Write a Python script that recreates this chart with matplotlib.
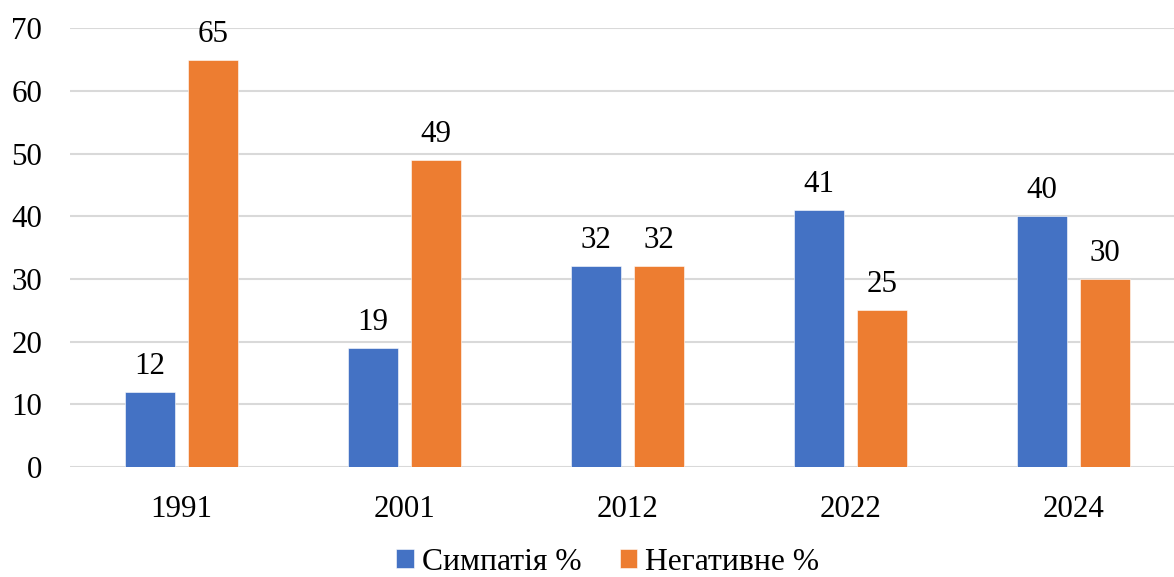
import numpy as np
import matplotlib.pyplot as plt

plt.rcParams.update({
    "font.family": ["Liberation Serif", "DejaVu Serif"],
    "font.size": 22.3,
})

# Data
years = ["1991", "2001", "2012", "2022", "2024"]
sympathy = [12, 19, 32, 41, 40]
negative = [65, 49, 32, 25, 30]
series_names = ["Симпатія %", "Негативне %"]

blue = "#4472C4"
orange = "#ED7D31"

fig = plt.figure(figsize=(11.74, 5.77), dpi=100)
# axes extends slightly past right edge like the original
ax = fig.add_axes([70 / 1174, 110 / 577, 1115 / 1174, 438.7 / 577])

x = np.arange(len(years))
w = 0.224
off = 0.1415

b1 = ax.bar(x - off, sympathy, w, color=blue, edgecolor="white", linewidth=0.4,
            label=series_names[0], zorder=3)
b2 = ax.bar(x + off, negative, w, color=orange, edgecolor="white", linewidth=0.4,
            label=series_names[1], zorder=3)

# value labels
for bars, vals in ((b1, sympathy), (b2, negative)):
    for rect, v in zip(bars, vals):
        ax.annotate(str(v), (rect.get_x() + rect.get_width() / 2, v),
                    xytext=(0, 13), textcoords="offset points",
                    ha="center", va="baseline")

ax.set_xlim(-0.5, 4.5)
ax.set_ylim(0, 70)
ax.set_yticks(range(0, 71, 10))
ax.set_xticks(x)
ax.set_xticklabels(years)

ax.grid(axis="y", color="#D9D9D9", linewidth=1.5, zorder=0)
ax.set_axisbelow(True)
for s in ax.spines.values():
    s.set_visible(False)
ax.tick_params(axis="x", length=0, pad=20)
ax.tick_params(axis="y", length=0, pad=20)

fig.legend(loc="center", bbox_to_anchor=(608 / 1174, 1 - 562 / 577), ncol=2,
           frameon=False, fontsize=22.8, handlelength=0.56, handleheight=0.56,
           handletextpad=0.25, columnspacing=1.2, borderaxespad=0)

plt.savefig("out.png", dpi=100)
